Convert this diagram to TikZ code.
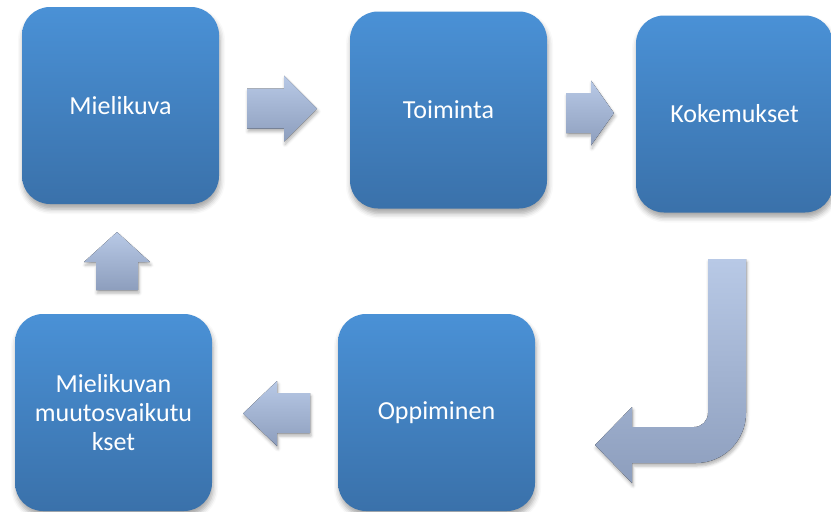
\documentclass[tikz,border=0pt]{standalone}
\usepackage{fontspec}
\setmainfont{Carlito}
\usetikzlibrary{shadows.blur}

\definecolor{boxtop}{RGB}{74,145,214}
\definecolor{boxbot}{RGB}{58,113,170}
\definecolor{arrtop}{RGB}{184,201,230}
\definecolor{arrbot}{RGB}{141,158,189}

\tikzset{
  stagebox/.style={
    minimum width=197pt, minimum height=197pt, inner sep=0pt,
    rounded corners=28pt, top color=boxtop, bottom color=boxbot,
    draw=none, text=white, align=center,
    font=\fontsize{26}{29}\selectfont,
    blur shadow={shadow xshift=1pt, shadow yshift=-5pt,
                 shadow blur radius=5pt, shadow opacity=35}},
  blockarrow/.style={
    top color=arrtop, bottom color=arrbot, draw=none,
    blur shadow={shadow xshift=1pt, shadow yshift=-3pt,
                 shadow blur radius=3pt, shadow opacity=30}}
}

\begin{document}
\begin{tikzpicture}[x=1pt, y=-1pt]
  \useasboundingbox (0,0) rectangle (831,512);

  % process stages
  \node[stagebox] (kuva)  at (120.5,105.5) {Mielikuva};
  \node[stagebox] (toim)  at (448.5,110)   {Toiminta};
  \node[stagebox] (koke)  at (734.5,114)   {Kokemukset};
  \node[stagebox] (muut)  at (113.5,412.5) {Mielikuvan\\muutosvaikutu\\kset};
  \node[stagebox] (oppi)  at (436.5,412.5) {Oppiminen};

  % block arrows between stages
  \fill[blockarrow] (247,88.5) -- (284,88.5) -- (284,75.5) -- (317,108.5)
    -- (284,141.5) -- (284,128.5) -- (247,128.5) -- cycle;
  \fill[blockarrow] (566,93) -- (591,93) -- (591,80.5) -- (614,113)
    -- (591,145.5) -- (591,133) -- (566,133) -- cycle;
  \fill[blockarrow] (708,259) -- (746,259) -- (746,413)
    arc[start angle=0, end angle=-90, radius=50pt]
    -- (632,463) -- (632,483) -- (595,445) -- (632,407) -- (632,427)
    -- (694,427) arc[start angle=-90, end angle=0, radius=14pt] -- cycle;
  \fill[blockarrow] (310,393) -- (277,393) -- (277,381) -- (243,413.5)
    -- (277,446) -- (277,433) -- (310,433) -- cycle;
  \fill[blockarrow] (96,290) -- (96,262) -- (84,262) -- (117,232)
    -- (150,262) -- (138,262) -- (138,290) -- cycle;
\end{tikzpicture}
\end{document}
